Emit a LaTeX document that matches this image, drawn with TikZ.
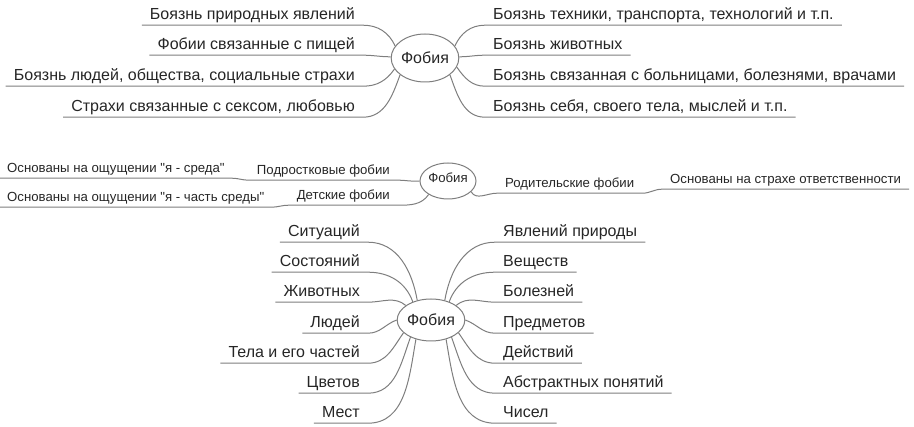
\documentclass[tikz,border=0pt]{standalone}
\usepackage{fontspec}
\newfontfamily\lsans{Liberation Sans}
\usetikzlibrary{shapes.geometric}
\definecolor{tx}{HTML}{262626}
\definecolor{ln}{HTML}{7E7E7E}
\begin{document}
\begin{tikzpicture}[x=1pt,y=1pt,
  lab/.style={inner xsep=8pt, inner ysep=0pt, text depth=5pt, text height=11pt,
              font=\lsans\fontsize{16}{19}\selectfont, text=tx},
  labL/.style={lab, anchor=base east},
  labR/.style={lab, anchor=base west},
  sm/.style={font=\lsans\fontsize{13.2}{16}\selectfont, text depth=5pt, text height=9pt},
  hub/.style={ellipse, draw=ln, line width=1pt, inner sep=0pt, text=tx,
              font=\lsans\fontsize{16}{19}\selectfont},
  br/.style={draw=ln, line width=1pt}]
\useasboundingbox (0,0) rectangle (914,-427);

% ---------- top map ----------
\node[hub, minimum width=66pt, minimum height=48pt] (A) at (425,-58) {Фобия};
\node[labL] (a1) at (363,-20)  {Боязнь природных явлений};
\node[labL] (a2) at (363,-50)  {Фобии связанные с пищей};
\node[labL] (a3) at (363,-81)  {Боязнь людей, общества, социальные страхи};
\node[labL] (a4) at (363,-112) {Страхи связанные с сексом, любовью};
\node[labR] (b1) at (485,-20)  {Боязнь техники, транспорта, технологий и т.п.};
\node[labR] (b2) at (485,-50)  {Боязнь животных};
\node[labR] (b3) at (485,-81)  {Боязнь связанная с больницами, болезнями, врачами};
\node[labR] (b4) at (485,-112) {Боязнь себя, своего тела, мыслей и т.п.};
\draw[br] (a1.south west) -- (a1.south east) to[out=0,in=115] (A.158);
\draw[br] (a2.south west) -- (a2.south east) to[out=0,in=180] (A.178);
\draw[br] (a3.south west) -- (a3.south east) to[out=0,in=235] (A.200);
\draw[br] (a4.south west) -- (a4.south east) to[out=0,in=250] (A.214);
\draw[br] (A.22)  to[out=65,in=180]  (b1.south west) -- (b1.south east);
\draw[br] (A.2)   to[out=0,in=180]   (b2.south west) -- (b2.south east);
\draw[br] (A.-16) to[out=-55,in=180] (b3.south west) -- (b3.south east);
\draw[br] (A.-34) to[out=-70,in=180] (b4.south west) -- (b4.south east);

% ---------- middle map ----------
\node[hub, sm, minimum width=56pt, minimum height=36pt] (M) at (448,-181) {Фобия};
\node[labL, sm] (p1) at (398,-175) {Подростковые фобии};
\node[labL, sm] (p2) at (398,-200) {Детские фобии};
\node[labR, sm, inner xsep=7pt] (o1) at (0,-173) {Основаны на ощущении "я - среда"};
\node[labR, sm, inner xsep=7pt] (o2) at (0,-202) {Основаны на ощущении "я - часть среды"};
\node[labR, sm] (r1) at (497,-188) {Родительские фобии};
\node[labR, sm] (r2) at (662,-184) {Основаны на страхе ответственности};
\draw[br] (o1.south west) -- (o1.south east) to[out=0,in=180] (p1.south west)
          -- (p1.south east) to[out=0,in=185] (M.180);
\draw[br] (o2.south west) -- (o2.south east) to[out=0,in=180] (p2.south west)
          -- (p2.south east) to[out=0,in=235] (M.215);
\draw[br] (M.-25) to[out=-60,in=180] (r1.south west) -- (r1.south east)
          to[out=0,in=180] (r2.south west) -- (r2.south east);

% ---------- bottom map ----------
\node[hub, minimum width=66pt, minimum height=42pt] (B) at (431,-320) {Фобия};
\node[labL] (c1) at (368,-237) {Ситуаций};
\node[labL] (c2) at (368,-267) {Состояний};
\node[labL] (c3) at (368,-297) {Животных};
\node[labL] (c4) at (368,-328) {Людей};
\node[labL] (c5) at (368,-358) {Тела и его частей};
\node[labL] (c6) at (368,-388) {Цветов};
\node[labL] (c7) at (368,-418) {Мест};
\node[labR] (d1) at (495,-237) {Явлений природы};
\node[labR] (d2) at (495,-267) {Веществ};
\node[labR] (d3) at (495,-297) {Болезней};
\node[labR] (d4) at (495,-328) {Предметов};
\node[labR] (d5) at (495,-358) {Действий};
\node[labR] (d6) at (495,-388) {Абстрактных понятий};
\node[labR] (d7) at (495,-418) {Чисел};
\draw[br] (c1.south west) -- (c1.south east) to[out=0,in=100] (B.125);
\draw[br] (c2.south west) -- (c2.south east) to[out=0,in=110] (B.135);
\draw[br] (c3.south west) -- (c3.south east) to[out=0,in=140] (B.150);
\draw[br] (c4.south west) -- (c4.south east) to[out=0,in=200] (B.180);
\draw[br] (c5.south west) -- (c5.south east) to[out=0,in=235] (B.205);
\draw[br] (c6.south west) -- (c6.south east) to[out=0,in=250] (B.220);
\draw[br] (c7.south west) -- (c7.south east) to[out=0,in=260] (B.232);
\draw[br] (B.55)  to[out=80,in=180]  (d1.south west) -- (d1.south east);
\draw[br] (B.45)  to[out=70,in=180]  (d2.south west) -- (d2.south east);
\draw[br] (B.30)  to[out=40,in=180]  (d3.south west) -- (d3.south east);
\draw[br] (B.0)   to[out=-20,in=180] (d4.south west) -- (d4.south east);
\draw[br] (B.-25) to[out=-55,in=180] (d5.south west) -- (d5.south east);
\draw[br] (B.-40) to[out=-70,in=180] (d6.south west) -- (d6.south east);
\draw[br] (B.-52) to[out=-80,in=180] (d7.south west) -- (d7.south east);
\end{tikzpicture}
\end{document}
